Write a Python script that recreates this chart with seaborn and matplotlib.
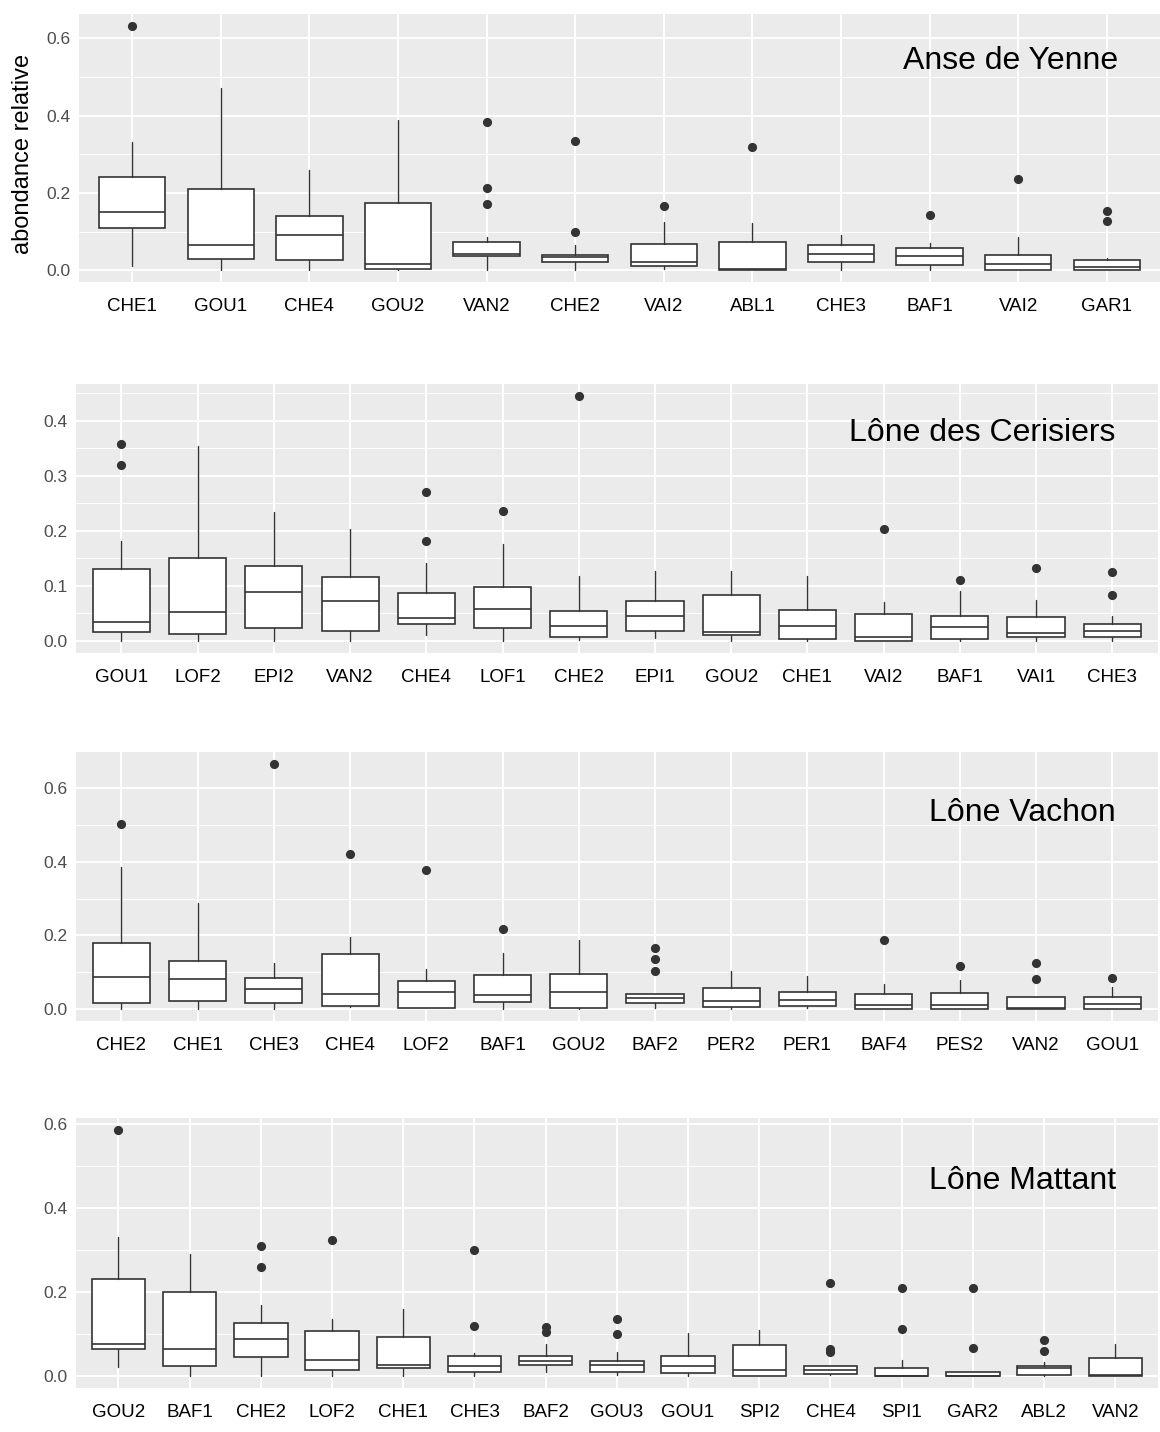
"""
Boxplots d'abondance relative par espèce, pour quatre lônes.
Sortie : out.png
"""

import matplotlib
matplotlib.use("Agg")

import matplotlib.pyplot as plt
import numpy as np
import pandas as pd
import seaborn as sns
from matplotlib.ticker import MultipleLocator, FormatStrFormatter

# --- Anse de Yenne ---
yen_names = ["CHE1", "GOU1", "CHE4", "GOU2", "VAN2", "CHE2", "VAI2", "ABL1",
             "CHE3", "BAF1", "VAI2", "GAR1"]
yen_lo = [0.011, 0.0, 0.0, 0.0, 0.0, 0.0, 0.002, 0.0, 0.0, 0.0, 0.0, 0.0]
yen_q1 = [0.109, 0.028, 0.026, 0.003, 0.036, 0.021, 0.011, 0.0, 0.020, 0.013, 0.0, 0.0]
yen_med = [0.150, 0.064, 0.092, 0.017, 0.043, 0.033, 0.021, 0.003, 0.043, 0.037, 0.015, 0.009]
yen_q3 = [0.240, 0.211, 0.141, 0.173, 0.074, 0.040, 0.068, 0.073, 0.064, 0.057, 0.038, 0.027]
yen_hi = [0.332, 0.472, 0.260, 0.389, 0.087, 0.064, 0.124, 0.121, 0.091, 0.071, 0.085, 0.032]
yen_out = [[0.631], [], [], [], [0.383, 0.213, 0.172], [0.334, 0.100], [0.166],
           [0.320], [], [0.143], [0.235], [0.154, 0.128]]

# --- Lône des Cerisiers ---
cer_names = ["GOU1", "LOF2", "EPI2", "VAN2", "CHE4", "LOF1", "CHE2", "EPI1",
             "GOU2", "CHE1", "VAI2", "BAF1", "VAI1", "CHE3"]
cer_lo = [0.0, 0.0, 0.0, 0.0, 0.010, 0.0, 0.002, 0.005, 0.0, 0.0, 0.0, 0.0, 0.0, 0.0]
cer_q1 = [0.016, 0.012, 0.023, 0.017, 0.030, 0.023, 0.007, 0.018, 0.011, 0.004,
          0.0, 0.003, 0.006, 0.007]
cer_med = [0.035, 0.052, 0.088, 0.072, 0.041, 0.057, 0.027, 0.045, 0.016, 0.027,
           0.007, 0.025, 0.015, 0.018]
cer_q3 = [0.131, 0.151, 0.136, 0.116, 0.087, 0.098, 0.055, 0.073, 0.084, 0.056,
          0.048, 0.045, 0.044, 0.030]
cer_hi = [0.182, 0.354, 0.235, 0.204, 0.141, 0.176, 0.117, 0.127, 0.127, 0.118,
          0.070, 0.091, 0.074, 0.045]
cer_out = [[0.358, 0.319], [], [], [], [0.271, 0.182], [0.237], [0.445], [], [],
           [], [0.204], [0.111], [0.133], [0.125, 0.084]]

# --- Lône Vachon ---
vac_names = ["CHE2", "CHE1", "CHE3", "CHE4", "LOF2", "BAF1", "GOU2", "BAF2",
             "PER2", "PER1", "BAF4", "PES2", "VAN2", "GOU1"]
vac_lo = [0.0, 0.0, 0.0, 0.005, 0.003, 0.0, 0.0, 0.002, 0.0, 0.002, 0.0, 0.0, 0.0, 0.0]
vac_q1 = [0.017, 0.021, 0.015, 0.008, 0.003, 0.019, 0.002, 0.016, 0.005, 0.008,
          0.0, 0.0, 0.0, 0.0]
vac_med = [0.086, 0.082, 0.053, 0.039, 0.045, 0.037, 0.047, 0.029, 0.020, 0.024,
           0.009, 0.011, 0.001, 0.013]
vac_q3 = [0.180, 0.130, 0.085, 0.148, 0.076, 0.091, 0.095, 0.041, 0.056, 0.046,
          0.039, 0.042, 0.031, 0.033]
vac_hi = [0.387, 0.288, 0.126, 0.196, 0.109, 0.152, 0.188, 0.041, 0.102, 0.089,
          0.067, 0.077, 0.033, 0.058]
vac_out = [[0.503], [], [0.666], [0.422], [0.377], [0.217], [], [0.166, 0.136, 0.102],
           [], [], [0.186], [0.117], [0.124, 0.080], [0.085]]

# --- Lône Mattant ---
mat_names = ["GOU2", "BAF1", "CHE2", "LOF2", "CHE1", "CHE3", "BAF2", "GOU3",
             "GOU1", "SPI2", "CHE4", "SPI1", "GAR2", "ABL2", "VAN2"]
mat_lo = [0.021, 0.0, 0.0, 0.0, 0.0, 0.0, 0.008, 0.001, 0.0, 0.0, 0.001, 0.0, 0.0, 0.0, 0.0]
mat_q1 = [0.064, 0.022, 0.045, 0.0135, 0.019, 0.0095, 0.025, 0.009, 0.006, 0.0,
          0.004, 0.0, 0.0, 0.002, 0.0]
mat_med = [0.076, 0.064, 0.088, 0.037, 0.026, 0.022, 0.034, 0.026, 0.024, 0.013,
           0.0135, 0.0, 0.0, 0.0175, 0.001]
mat_q3 = [0.231, 0.199, 0.125, 0.107, 0.092, 0.048, 0.048, 0.035, 0.046, 0.072,
          0.024, 0.019, 0.008, 0.024, 0.041]
mat_hi = [0.331, 0.290, 0.169, 0.135, 0.158, 0.053, 0.076, 0.057, 0.101, 0.108,
          0.024, 0.038, 0.008, 0.032, 0.076]
mat_out = [[0.584], [], [0.308, 0.259], [0.323], [], [0.298, 0.119], [0.116, 0.105],
           [0.135, 0.099], [], [], [0.220, 0.063, 0.056], [0.208, 0.111],
           [0.209, 0.065], [0.085, 0.058], []]

EDGE = "#333333"
W, H = 1160, 1432

sns.set_theme(style="darkgrid", rc={
    "axes.facecolor": "#EBEBEB",
    "grid.color": "white",
    "axes.edgecolor": "#EBEBEB",
})
plt.rcParams["font.family"] = ["Liberation Sans", "DejaVu Sans"]


def draw_panel(fig, rect_px, names, lo, q1, med, q3, hi, out, step, title, title_y):
    x0, y0, x1, y1 = rect_px
    ax = fig.add_axes([x0 / W, 1 - y1 / H, (x1 - x0) / W, (y1 - y0) / H])
    ax.set_axisbelow(True)

    stats = [dict(label=n, whislo=a, q1=b, med=c, q3=d, whishi=e, fliers=[])
             for n, a, b, c, d, e in zip(names, lo, q1, med, q3, hi)]
    pos = np.arange(len(names))
    ax.bxp(stats, positions=pos, widths=0.75, showcaps=False, patch_artist=True,
           showfliers=False, manage_ticks=False,
           boxprops=dict(facecolor="white", edgecolor=EDGE, linewidth=1.2),
           medianprops=dict(color=EDGE, linewidth=1.2),
           whiskerprops=dict(color=EDGE, linewidth=1.0))

    # points extrêmes
    pts = pd.DataFrame([(i, v) for i, vals in enumerate(out) for v in vals],
                       columns=["pos", "val"])
    sns.stripplot(data=pts, x="pos", y="val", native_scale=True, jitter=False,
                  color=EDGE, size=6.6, linewidth=0, ax=ax, zorder=3)

    allv = lo + hi + [v for vals in out for v in vals]
    ymin, ymax = min(allv), max(allv)
    pad = 0.05 * (ymax - ymin)
    ax.set_ylim(ymin - pad, ymax + pad)
    ax.set_xlim(-0.6, len(names) - 0.4)

    ax.set_xticks(pos)
    ax.set_xticklabels(names)
    ax.yaxis.set_major_locator(MultipleLocator(step))
    ax.yaxis.set_minor_locator(MultipleLocator(step / 2))
    ax.yaxis.set_major_formatter(FormatStrFormatter("%.1f"))
    ax.grid(True, which="major", color="white", linewidth=1.4)
    ax.grid(True, which="minor", axis="y", color="white", linewidth=0.7)
    ax.tick_params(axis="both", which="major", length=2.9, width=0.8, color=EDGE)
    ax.tick_params(axis="y", which="minor", length=0)
    ax.tick_params(axis="y", labelcolor="#4D4D4D", labelsize=12.5, pad=3)
    ax.tick_params(axis="x", labelcolor="black", labelsize=13.5, pad=8.5)
    ax.set_xlabel("")
    ax.set_ylabel("")
    for s in ax.spines.values():
        s.set_visible(False)

    ax.text(0.961, title_y, title, transform=ax.transAxes, ha="right",
            va="baseline", fontsize=23, color="black")
    return ax


def main():
    fig = plt.figure(figsize=(W / 100, H / 100), dpi=100)

    draw_panel(fig, (79, 14.3, 1160, 282.3), yen_names, yen_lo, yen_q1, yen_med,
               yen_q3, yen_hi, yen_out, 0.2, "Anse de Yenne", 0.795)
    draw_panel(fig, (75.7, 384, 1158, 653), cer_names, cer_lo, cer_q1, cer_med,
               cer_q3, cer_hi, cer_out, 0.1, "Lône des Cerisiers", 0.789)
    draw_panel(fig, (75.7, 752, 1158, 1021), vac_names, vac_lo, vac_q1, vac_med,
               vac_q3, vac_hi, vac_out, 0.2, "Lône Vachon", 0.743)
    draw_panel(fig, (75.7, 1118, 1158, 1388), mat_names, mat_lo, mat_q1, mat_med,
               mat_q3, mat_hi, mat_out, 0.2, "Lône Mattant", 0.736)

    fig.text(23 / W, 1 - 154 / H, "abondance relative", rotation=90,
             ha="center", va="center", fontsize=17, color="black")

    fig.savefig("out.png", dpi=100)
    plt.close(fig)


if __name__ == "__main__":
    main()
